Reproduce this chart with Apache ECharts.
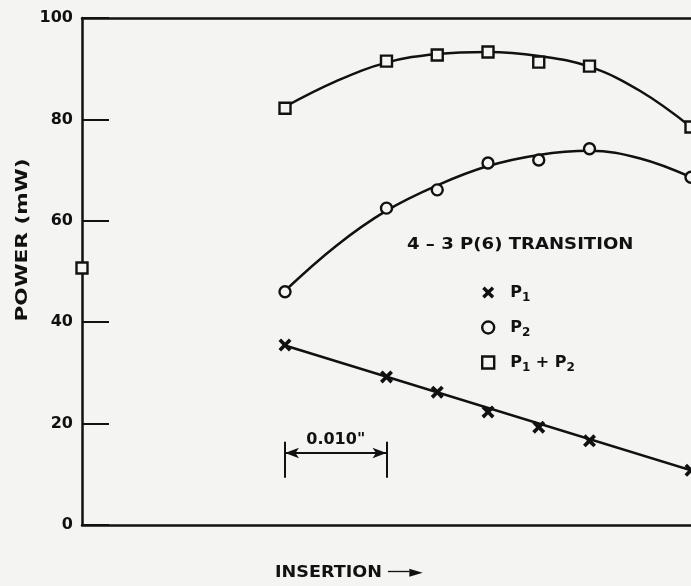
<!DOCTYPE html>
<html>
<head>
<meta charset="utf-8">
<script src="https://cdn.jsdelivr.net/npm/echarts@6/dist/echarts.min.js"></script>
<style>
  html, body { margin: 0; padding: 0; background: #f4f4f2; }
  #chart { width: 691px; height: 586px; }
</style>
</head>
<body>
<div id="chart"></div>
<script>
// ---- data ----
const insertion = [0, 2, 3, 4, 5, 6, 8];           // insertion, units of 0.005"
const p1 = [35.5, 29.2, 26.2, 22.3, 19.3, 16.6, 10.8];
const p2 = [46.0, 62.5, 66.1, 71.4, 72.0, 74.2, 68.6];
const p12 = [82.2, 91.5, 92.7, 93.3, 91.3, 90.5, 78.5];
// stray square on the axis
const strayX = [-4];
const strayY = [50.7];
// hand-drawn fitted curves, read at each insertion step
const fitX = [0, 1, 2, 3, 4, 5, 6, 7, 8];
const fitP2 = [46.2, 55.0, 62.0, 67.0, 70.8, 73.0, 73.8, 72.3, 68.6];
const fitP12 = [82.5, 87.5, 91.2, 92.9, 93.3, 92.5, 90.4, 85.6, 78.5];
const lineP1X = [0, 8];
const lineP1 = [35.4, 10.8];
// scale bar 0.010"
const barX = [0, 2];
const barY = 14.2;
const barTickLow = 9.3, barTickHigh = 16.4;
const yTicks = [0, 20, 40, 60, 80, 100];

const ink = '#111111';
const bg = '#f4f4f2';
const font = '"DejaVu Sans", sans-serif';
const xSym = 'path://M0,2L2,0L5,3L8,0L10,2L7,5L10,8L8,10L5,7L2,10L0,8L3,5Z';

const zip = (xs, ys) => xs.map((x, i) => [x, ys[i]]);

const chart = echarts.init(document.getElementById('chart'), null, { renderer: 'canvas' });
const option = {
  backgroundColor: bg,
  animation: false,
  graphic: [
    { type: 'text', x: 407, y: 245, scaleX: 1.13, silent: true,
      style: { text: '4 \u2013 3 P(6) TRANSITION', fill: ink, font: 'bold 16px "DejaVu Sans"', textVerticalAlign: 'middle', textAlign: 'left' } },
    { type: 'text', x: 23, y: 240, rotation: Math.PI / 2, scaleX: 1.35, silent: true,
      style: { text: 'POWER (mW)', fill: ink, font: 'bold 16px "DejaVu Sans"', textVerticalAlign: 'middle', textAlign: 'center' } },
    { type: 'text', x: 275, y: 573, scaleX: 1.1, silent: true,
      style: { text: 'INSERTION \u2500\u2500\u25BA', fill: ink, font: 'bold 16px "DejaVu Sans"', textVerticalAlign: 'middle', textAlign: 'left' } }
  ],
  legend: {
    orient: 'vertical',
    left: 476, top: 276,
    itemWidth: 12, itemHeight: 12, itemGap: 12,
    data: [
      { name: 'P1', icon: xSym, itemStyle: { color: ink, borderWidth: 0, opacity: 1 } },
      { name: 'P2', icon: 'circle', itemStyle: { color: bg, borderColor: ink, borderWidth: 2.4, opacity: 1 } },
      { name: 'P1+P2', icon: 'rect', itemStyle: { color: bg, borderColor: ink, borderWidth: 2.4, opacity: 1 } }
    ],
    formatter: function (n) {
      if (n === 'P1') return '{p|P}{s|1}';
      if (n === 'P2') return '{p|P}{s|2}';
      return '{p|P}{s|1}{p| + P}{s|2}';
    },
    textStyle: {
      fontFamily: font, color: ink, padding: [0, 0, 0, 11],
      rich: {
        p: { fontSize: 16, fontWeight: 'bold', fontFamily: font, color: ink, lineHeight: 22 },
        s: { fontSize: 12, fontWeight: 'bold', fontFamily: font, color: ink, padding: [11, 0, 0, 0], lineHeight: 22 }
      }
    }
  },
  grid: { left: 82, top: 18, width: 611, height: 507, containLabel: false },
  xAxis: [
    {
      type: 'value', min: -4, max: 8, position: 'bottom',
      axisLine: { show: true, onZero: false, lineStyle: { color: ink, width: 2.5 } },
      axisTick: { show: false }, axisLabel: { show: false }, splitLine: { show: false }
    },
    {
      type: 'value', min: -4, max: 8, position: 'top',
      axisLine: { show: true, onZero: false, lineStyle: { color: ink, width: 2.5 } },
      axisTick: { show: false }, axisLabel: { show: false }, splitLine: { show: false }
    }
  ],
  yAxis: {
    type: 'value', min: 0, max: 100, interval: 20,
    axisLine: { show: true, onZero: false, lineStyle: { color: ink, width: 2.5 } },
    axisTick: { show: true, inside: true, length: 27, lineStyle: { color: ink, width: 2 } },
    axisLabel: {
      margin: 9, fontFamily: font, fontSize: 16, fontWeight: 'bold', color: ink,
      formatter: v => yTicks.includes(v) ? String(v) : ''
    },
    splitLine: { show: false }
  },
  series: [
    { type: 'line', name: 'fitP12', data: zip(fitX, fitP12), smooth: 0.4, showSymbol: false,
      lineStyle: { color: ink, width: 2.5 }, silent: true, z: 2 },
    { type: 'line', name: 'fitP2', data: zip(fitX, fitP2), smooth: 0.4, showSymbol: false,
      lineStyle: { color: ink, width: 2.5 }, silent: true, z: 2 },
    { type: 'line', name: 'lineP1', data: zip(lineP1X, lineP1), showSymbol: false,
      lineStyle: { color: ink, width: 2.5 }, silent: true, z: 2,
      markLine: {
        silent: true, animation: false,
        symbol: ['none', 'none'],
        lineStyle: { color: ink, width: 2, type: 'solid' },
        label: { show: false },
        data: [
          [{ coord: [barX[0], barTickLow] }, { coord: [barX[0], barTickHigh] }],
          [{ coord: [barX[1], barTickLow] }, { coord: [barX[1], barTickHigh] }]
        ]
      }
    },
    { type: 'line', name: 'bar', data: [], showSymbol: false,
      markLine: {
        silent: true, animation: false,
        symbol: ['arrow', 'arrow'], symbolSize: [8, 14],
        lineStyle: { color: ink, width: 2, type: 'solid' },
        label: { show: true, position: 'middle', formatter: '0.010"', distance: 5,
          fontFamily: font, fontSize: 16, fontWeight: 'bold', color: ink },
        data: [[{ coord: [barX[0], barY] }, { coord: [barX[1], barY] }]]
      }
    },
    { type: 'scatter', name: 'P1', data: zip(insertion, p1), symbol: xSym, symbolSize: 13,
      itemStyle: { color: ink, opacity: 1 }, clip: false, z: 5 },
    { type: 'scatter', name: 'P2', data: zip(insertion, p2), symbol: 'circle', symbolSize: 11,
      itemStyle: { color: bg, borderColor: ink, borderWidth: 2.4, opacity: 1 }, clip: false, z: 5 },
    { type: 'scatter', name: 'P1+P2', data: zip(insertion, p12).concat(zip(strayX, strayY)), symbol: 'rect', symbolSize: 11,
      itemStyle: { color: bg, borderColor: ink, borderWidth: 2.4, opacity: 1 }, clip: false, z: 5 }
  ]
};
chart.setOption(option);
</script>
</body>
</html>
